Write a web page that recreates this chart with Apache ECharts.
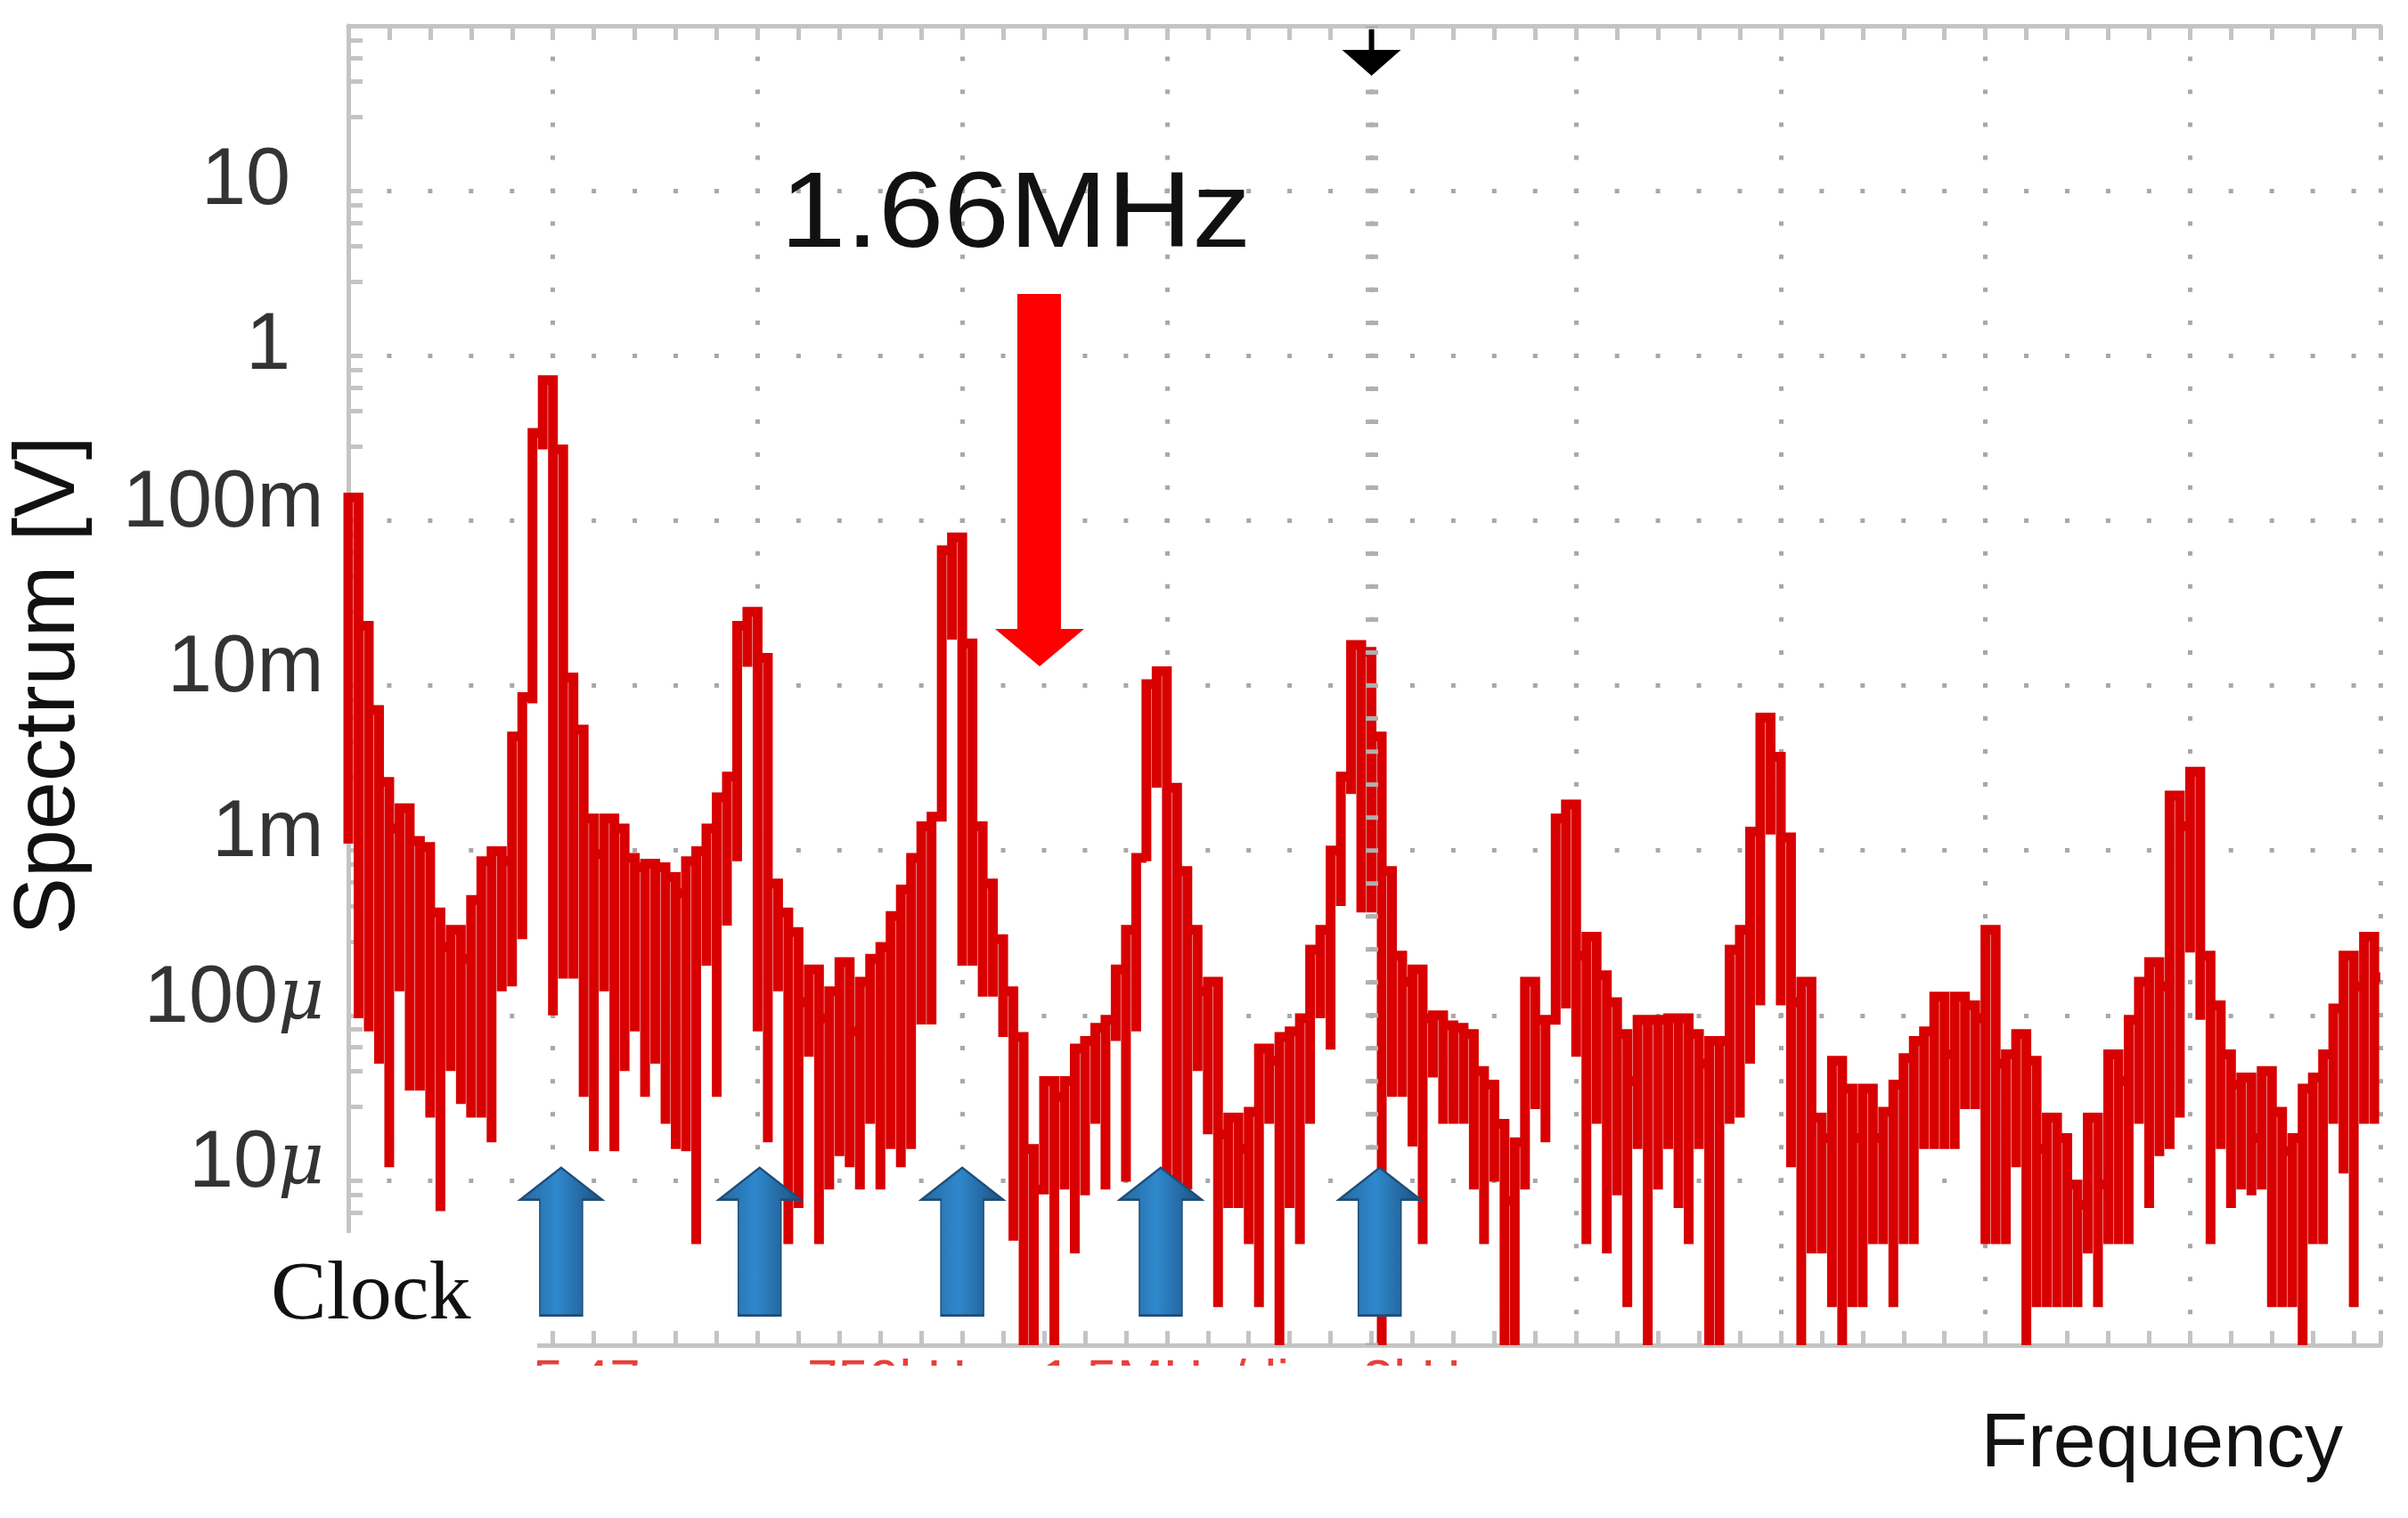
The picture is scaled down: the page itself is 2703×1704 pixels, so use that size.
<!DOCTYPE html>
<html lang="en">
<head>
<meta charset="UTF-8">
<title>Spectrum</title>
<script src="https://cdn.jsdelivr.net/npm/echarts@6.0.0/dist/echarts.min.js"></script>
<style>
  html, body { margin: 0; padding: 0; background: #fff; }
  #chart { width: 2703px; height: 1704px; }
</style>
</head>
<body>
<div id="chart"></div>
<script>
// x is measured in screen divisions, one bin = 0.05 division
var binWidth = 0.05;
var xMax = 9.93;

// top of the trace in each bin (V)
var peakTop = [
  0.138, 0.023, 7.1e-3, 2.6e-3, 1.36e-3, 1.8e-3, 1.14e-3, 1.05e-3, 4.2e-4, 2.6e-4,
  3.3e-4, 2.2e-4, 5.0e-4, 8.6e-4, 9.9e-4, 8.6e-4, 4.9e-3, 8.5e-3, 0.34, 0.71,
  0.27, 0.0112, 5.4e-3, 1.56e-3, 9.5e-4, 1.56e-3, 1.36e-3, 9.0e-4, 7.9e-4, 8.3e-4,
  7.9e-4, 6.9e-4, 5.5e-4, 8.6e-4, 9.9e-4, 1.36e-3, 2.1e-3, 2.8e-3, 0.023, 0.028,
  0.0147, 6.3e-4, 4.2e-4, 3.2e-4, 1.2e-4, 1.9e-4, 9.6e-5, 1.4e-4, 2.1e-4, 8.0e-5,
  1.6e-4, 2.2e-4, 2.6e-4, 4.0e-4, 5.8e-4, 9.0e-4, 1.4e-3, 1.6e-3, 0.066, 0.079,
  0.018, 1.4e-3, 6.3e-4, 2.9e-4, 1.4e-4, 7.4e-5, 1.55e-5, 8.8e-6, 4.0e-5, 3.2e-5,
  4.0e-5, 6.3e-5, 7.0e-5, 8.4e-5, 9.4e-5, 1.9e-4, 3.3e-4, 9.0e-4, 0.0102, 0.0122,
  2.4e-3, 7.5e-4, 3.3e-4, 1.4e-4, 1.6e-4, 1.9e-5, 2.4e-5, 1.55e-5, 2.6e-5, 6.3e-5,
  5.3e-5, 7.4e-5, 8.0e-5, 9.6e-5, 2.5e-4, 3.3e-4, 1.0e-3, 2.8e-3, 0.0176, 0.016,
  4.9e-3, 7.5e-4, 2.3e-4, 1.6e-4, 1.9e-4, 9.6e-5, 1.0e-4, 8.7e-5, 8.4e-5, 7.7e-5,
  4.6e-5, 3.8e-5, 2.2e-5, 7.5e-6, 1.7e-5, 1.6e-4, 9.4e-5, 9.4e-5, 1.56e-3, 1.9e-3,
  2.3e-4, 3.0e-4, 1.75e-4, 1.2e-4, 7.7e-5, 4.0e-5, 9.4e-5, 9.4e-5, 9.4e-5, 9.6e-5,
  9.6e-5, 7.7e-5, 5.1e-5, 7.0e-5, 7.0e-5, 2.5e-4, 3.3e-4, 1.3e-3, 6.4e-3, 3.7e-3,
  1.2e-3, 1.2e-4, 1.6e-4, 2.4e-5, 1.8e-5, 5.3e-5, 3.6e-5, 1.8e-5, 3.6e-5, 1.8e-5,
  2.6e-5, 3.8e-5, 5.5e-5, 7.0e-5, 8.0e-5, 1.3e-4, 5.8e-5, 1.3e-4, 1.15e-4, 9.6e-5,
  3.3e-4, 5.1e-5, 5.8e-5, 7.7e-5, 5.3e-5, 1.55e-5, 2.4e-5, 1.8e-5, 9.4e-6, 7.1e-6,
  2.4e-5, 9.4e-6, 5.8e-5, 4.0e-5, 9.4e-5, 1.6e-4, 2.1e-4, 1.5e-4, 2.15e-3, 1.4e-3,
  3.0e-3, 2.3e-4, 1.15e-4, 5.8e-5, 3.8e-5, 4.2e-5, 1.8e-5, 4.6e-5, 2.6e-5, 1.5e-5,
  1.8e-5, 3.6e-5, 4.2e-5, 5.8e-5, 1.1e-4, 2.3e-4, 1.5e-4, 3.0e-4, 1.7e-4
];

// bottom of the spike at the start of each bin (V)
var spikeLow = [
  1.1e-3, 9.6e-5, 8.0e-5, 5.1e-5, 1.2e-5, 1.4e-4, 3.5e-5, 3.5e-5, 2.4e-5, 6.5e-6,
  4.6e-5, 2.9e-5, 2.4e-5, 2.4e-5, 1.7e-5, 1.4e-4, 1.5e-4, 2.9e-4, 7.8e-3, 0.27,
  1.0e-4, 1.67e-4, 1.67e-4, 3.2e-5, 1.5e-5, 1.4e-4, 1.5e-5, 4.6e-5, 8.0e-5, 3.2e-5,
  5.1e-5, 2.2e-5, 1.55e-5, 1.5e-5, 4.1e-6, 2.0e-4, 3.2e-5, 3.5e-4, 8.6e-4, 0.013,
  8.0e-5, 1.7e-5, 1.4e-4, 4.1e-6, 6.8e-6, 5.6e-5, 4.1e-6, 8.8e-6, 1.4e-5, 1.2e-5,
  8.8e-6, 2.2e-5, 8.8e-6, 1.55e-5, 1.2e-5, 1.55e-5, 8.8e-5, 8.8e-5, 1.8e-3, 0.019,
  2.0e-4, 2.0e-4, 1.3e-4, 1.3e-4, 7.4e-5, 4.3e-6, 1e-6, 1e-6, 8.8e-6, 1e-6,
  8.8e-6, 3.6e-6, 8.1e-6, 2.2e-5, 8.8e-6, 7.0e-5, 9.8e-6, 8.0e-5, 8.6e-4, 2.4e-3,
  1.05e-5, 8.8e-6, 8.8e-6, 4.6e-5, 1.9e-5, 1.7e-6, 6.8e-6, 6.8e-6, 4.1e-6, 1.7e-6,
  2.2e-5, 1e-6, 6.8e-6, 4.1e-6, 2.2e-5, 9.6e-5, 6.2e-5, 4.6e-4, 2.2e-3, 4.2e-4,
  4.2e-4, 1e-6, 3.2e-5, 3.2e-5, 1.6e-5, 4.1e-6, 4.2e-5, 2.2e-5, 2.2e-5, 2.2e-5,
  8.8e-6, 4.1e-6, 9.8e-6, 1e-6, 1e-6, 8.8e-6, 2.7e-5, 1.7e-5, 1.1e-4, 1.1e-4,
  5.6e-5, 4.1e-6, 2.2e-5, 3.6e-6, 8.1e-6, 1.7e-6, 1.55e-5, 1e-6, 8.8e-6, 1.55e-5,
  6.8e-6, 4.1e-6, 1.55e-5, 1e-6, 1e-6, 2.2e-5, 2.4e-5, 5.1e-5, 1.15e-4, 1.25e-3,
  1.15e-4, 1.2e-5, 1e-6, 3.6e-6, 3.6e-6, 1.7e-6, 1e-6, 1.7e-6, 1.7e-6, 4.1e-6,
  4.1e-6, 1.7e-6, 4.1e-6, 4.1e-6, 1.55e-5, 1.55e-5, 1.55e-5, 1.55e-5, 2.7e-5, 2.7e-5,
  4.1e-6, 4.1e-6, 4.1e-6, 1.2e-5, 1e-6, 1.7e-6, 1.7e-6, 1.7e-6, 1.7e-6, 1.7e-6,
  3.6e-6, 1.7e-6, 4.1e-6, 4.1e-6, 4.1e-6, 2.2e-5, 6.8e-6, 1.4e-5, 1.55e-5, 2.4e-5,
  2.4e-4, 9.4e-5, 4.1e-6, 1.55e-5, 6.8e-6, 8.8e-6, 8.1e-6, 8.8e-6, 1.7e-6, 1.7e-6,
  1.7e-6, 1e-6, 4.1e-6, 4.1e-6, 2.2e-5, 1.1e-5, 1.7e-6, 2.2e-5, 2.2e-5
];

var yTickValues = [10, 1, 0.1, 0.01, 0.001, 1e-4, 1e-5];
var yTickNumbers = ['10', '1', '100', '10', '1', '100', '10'];
var yTickUnits = ['', '', 'm', 'm', 'm', 'μ', 'μ'];

// clock harmonics marked with blue arrows (division)
var clockHarmonics = [1.04, 2.01, 3.0, 3.97, 5.04];
var clockArrowLevel = 4.25e-6;
var redArrowAt = [3.378, 0.176];
var markerAt = [5.0, 68.9];

var trace = [];
for (var i = 0; i < peakTop.length; i++) {
  var x0 = i * binWidth;
  var x1 = Math.min(x0 + binWidth, xMax);
  trace.push([x0, spikeLow[i]], [x0, peakTop[i]], [x1, peakTop[i]]);
}

var gridGrey = '#c4c4c4';
var dotGrey = '#a8a8a8';
var labelFont = 'Liberation Sans';

var chart = echarts.init(document.getElementById('chart'));

var xAxisBase = {
  type: 'value',
  min: 0,
  max: xMax,
  interval: 1,
  axisLabel: { show: false },
  axisLine: { show: true, lineStyle: { color: gridGrey, width: 5 } },
  axisTick: { show: true, inside: true, length: 16, lineStyle: { color: gridGrey, width: 5 } },
  minorTick: { show: true, splitNumber: 5, length: 16, lineStyle: { color: gridGrey, width: 5 } }
};

chart.setOption({
  animation: false,
  backgroundColor: '#ffffff',
  grid: { left: 391, top: 29, width: 2281, height: 1481, containLabel: false, outerBoundsMode: 'none' },
  xAxis: [
    Object.assign({}, xAxisBase, {
      position: 'bottom',
      splitLine: {
        show: true,
        lineStyle: { color: dotGrey, width: 5, type: [5, 32.02], dashOffset: 2.5 }
      }
    }),
    Object.assign({}, xAxisBase, {
      position: 'top',
      splitLine: { show: false }
    })
  ],
  yAxis: {
    type: 'log',
    logBase: 10,
    min: 1e-6,
    max: 100,
    splitNumber: 8,
    name: 'Spectrum [V]',
    nameLocation: 'middle',
    nameGap: 286,
    nameTextStyle: { fontFamily: 'Liberation Sans', fontSize: 97, color: '#111' },
    axisLine: { show: true, lineStyle: { color: gridGrey, width: 5 } },
    axisTick: { show: true, inside: true, length: 16, lineStyle: { color: gridGrey, width: 5 } },
    minorTick: { show: true, splitNumber: 5, length: 16, lineStyle: { color: gridGrey, width: 5 } },
    splitLine: {
      show: true,
      lineStyle: { color: dotGrey, width: 5, type: [5, 40.94], dashOffset: 2.5 }
    },
    axisLabel: {
      margin: 27,
      padding: [0, 0, 36, 0],
      formatter: function (v) {
        for (var k = 0; k < yTickValues.length; k++) {
          if (Math.abs(Math.log10(v) - Math.log10(yTickValues[k])) < 0.01) {
            var u = yTickUnits[k];
            if (u === 'μ') return '{n|' + yTickNumbers[k] + '}{mu|μ}';
            if (u === 'm') return '{n|' + yTickNumbers[k] + '}{m|m}';
            return '{b|' + yTickNumbers[k] + '}{s| }';
          }
        }
        return '';
      },
      rich: {
        n: { fontFamily: labelFont, fontSize: 90, color: '#333' },
        b: { fontFamily: labelFont, fontSize: 90, color: '#333', padding: [16, 0, 0, 0] },
        m: { fontFamily: labelFont, fontSize: 90, color: '#333', width: 76, align: 'left' },
        mu: { fontFamily: 'DejaVu Serif', fontStyle: 'italic', fontSize: 80, color: '#333', width: 52, align: 'left' },
        s: { fontSize: 90, width: 38 }
      }
    }
  },
  series: [
    {
      // the heavier dotted column of the marker position
      name: 'marker column',
      type: 'line',
      data: [],
      markLine: {
        silent: true,
        symbol: 'none',
        label: { show: false },
        lineStyle: { color: '#b0b0b0', width: 14, type: [5, 32.02], dashOffset: 2.5 },
        data: [{ xAxis: markerAt[0] }]
      },
      z: 1,
      silent: true
    },
    {
      name: 'spectrum',
      type: 'line',
      data: trace,
      showSymbol: false,
      symbol: 'none',
      sampling: null,
      lineStyle: { color: '#d80000', width: 11, join: 'miter' },
      z: 2,
      silent: true
    },
    {
      name: 'clock',
      type: 'scatter',
      data: clockHarmonics.map(function (x) { return [x, clockArrowLevel]; }),
      symbol: 'path://M46,0 L92,36 L70,36 L70,166 L22,166 L22,36 L0,36 Z',
      symbolSize: [92, 166],
      itemStyle: {
        color: new echarts.graphic.LinearGradient(0, 0, 1, 0, [
          { offset: 0, color: '#24679f' },
          { offset: 0.45, color: '#2f88cc' },
          { offset: 1, color: '#1b4f80' }
        ]),
        borderColor: '#1f4d78',
        borderWidth: 2,
        opacity: 1
      },
      z: 10,
      silent: true
    },
    {
      name: 'peak marker',
      type: 'scatter',
      data: [redArrowAt],
      symbol: 'path://M25,0 L74,0 L74,376 L100,376 L50,418 L0,376 L25,376 Z',
      symbolSize: [100, 418],
      itemStyle: { color: '#ff0000', opacity: 1 },
      z: 10,
      silent: true
    },
    {
      name: 'top marker',
      type: 'scatter',
      data: [markerAt],
      symbol: 'path://M30,0 L36,0 L36,23 L66,23 L33,52 L0,23 L30,23 Z',
      symbolSize: [66, 52],
      itemStyle: { color: '#000', opacity: 1 },
      z: 10,
      silent: true
    }
  ],
  graphic: [
    {
      type: 'rect',
      shape: { x: 0, y: 1384, width: 603, height: 170 },
      style: { fill: '#fff' },
      z: 5,
      silent: true
    },
    // scope readout text, cut off by the picture edge
    {
      type: 'text',
      x: 598, y: 1521,
      style: { text: '5.47', fontFamily: 'Liberation Sans', fontSize: 62, fill: '#e8403a', verticalAlign: 'top' },
      z: 12
    },
    {
      type: 'text',
      x: 906, y: 1521,
      style: { text: '750kHz   1.5MHz/div   3kHz', fontFamily: 'Liberation Sans', fontSize: 62, fill: '#e8403a', verticalAlign: 'top' },
      z: 12
    },
    {
      type: 'rect',
      shape: { x: 0, y: 1533, width: 2703, height: 171 },
      style: { fill: '#fff' },
      z: 15,
      silent: true
    },
    {
      type: 'text',
      x: 304, y: 1455,
      style: { text: 'Clock', fontFamily: 'Liberation Serif', fontSize: 94, fill: '#111', verticalAlign: 'middle' },
      z: 20
    },
    {
      type: 'text',
      x: 876, y: 244,
      scaleX: 1.1,
      style: { text: '1.66MHz', fontFamily: 'Liberation Sans', fontSize: 120, fill: '#111', verticalAlign: 'middle' },
      z: 20
    },
    {
      type: 'text',
      x: 2630, y: 1622,
      style: { text: 'Frequency', fontFamily: 'Liberation Sans', fontSize: 86, fill: '#111', align: 'right', verticalAlign: 'middle' },
      z: 20
    }
  ]
});
</script>
</body>
</html>
